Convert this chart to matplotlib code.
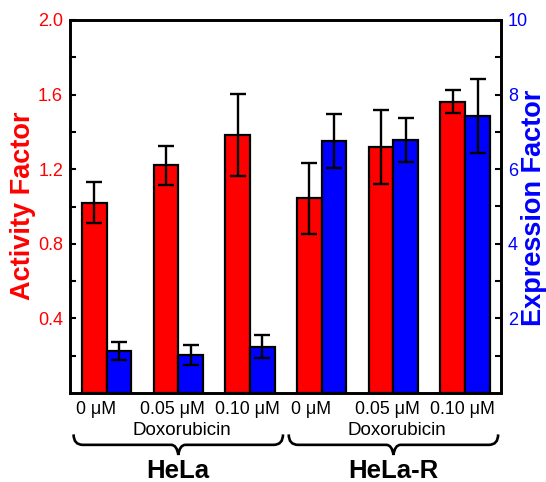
import matplotlib
matplotlib.use("Agg")
import matplotlib.pyplot as plt
from matplotlib.path import Path
from matplotlib.patches import PathPatch
import matplotlib.transforms as mtransforms
import numpy as np

plt.rcParams['font.family'] = ['Liberation Sans', 'DejaVu Sans']

# ---- data ----
conditions = ["0 μM", "0.05 μM", "0.10 μM", "0 μM", "0.05 μM", "0.10 μM"]
groups = ["HeLa", "HeLa-R"]
treatment = "Doxorubicin"
activity = [1.02, 1.22, 1.385, 1.045, 1.32, 1.562]
activity_err = [0.11, 0.105, 0.22, 0.19, 0.20, 0.06]
expression = [1.13, 1.02, 1.24, 6.76, 6.77, 7.43]
expression_err = [0.25, 0.27, 0.31, 0.72, 0.59, 1.0]

RED = "#FF0000"
BLUE = "#0000FF"

fig = plt.figure(figsize=(5.46, 4.82), dpi=100)
ax = fig.add_axes([70/546, 89/482, 431/546, 373/482])
ax2 = ax.twinx()

x = np.arange(len(conditions))
w = 0.345

ax.bar(x - w/2, activity, w, color=RED, edgecolor="black", linewidth=1.6, zorder=2)
ax.errorbar(x - w/2, activity, yerr=activity_err, fmt="none", ecolor="black",
            elinewidth=1.7, capsize=6, capthick=1.7, zorder=3)
ax2.bar(x + w/2, expression, w, color=BLUE, edgecolor="black", linewidth=1.6, zorder=2)
ax2.errorbar(x + w/2, expression, yerr=expression_err, fmt="none", ecolor="black",
             elinewidth=1.7, capsize=6, capthick=1.7, zorder=3)

ax.set_xlim(-0.51, 5.5)
ax.set_ylim(0, 2.0)
ax2.set_ylim(0, 10)

ax.set_yticks([0.4, 0.8, 1.2, 1.6, 2.0])
ax.set_yticks([0.2, 0.6, 1.0, 1.4, 1.8], minor=True)
ax.set_yticklabels(["0.4", "0.8", "1.2", "1.6", "2.0"])
ax2.set_yticks([2, 4, 6, 8, 10])
ax2.set_yticks([1, 3, 5, 7, 9], minor=True)
ax2.set_yticklabels(["2", "4", "6", "8", "10"])
ax.set_xticks([])

ax.tick_params(axis="y", which="both", direction="in", length=4, width=1.5,
               labelsize=13, labelcolor=RED, pad=5)
ax2.tick_params(axis="y", which="both", direction="in", length=4, width=1.5,
                labelsize=13, labelcolor=BLUE, pad=5)
for a in (ax, ax2):
    for s in a.spines.values():
        s.set_linewidth(1.9)

fig.text(23/546, 1 - 206/482, "Activity Factor", rotation=90, color=RED,
         fontsize=19.5, fontweight="bold", ha="center", va="center")
fig.text(534/546, 1 - 208/482, "Expression Factor", rotation=90, color=BLUE,
         fontsize=19.5, fontweight="bold", ha="center", va="center")

trans = mtransforms.blended_transform_factory(ax.transData, ax.transAxes)
label_shift = [-0.15, -0.085, -0.035, -0.15, -0.085, -0.035]
for xi, lab, sh in zip(x, conditions, label_shift):
    ax.text(xi + sh, -0.043, lab, transform=trans, ha="center", va="center",
            fontsize=12.8, clip_on=False)

def brace(x0, x1, xt):
    yt, ym, yp = -0.111, -0.139, -0.166
    c = 0.13
    verts = [(x0, yt), (x0, ym), (x0 + c, ym),
             (xt - 0.1, ym), (xt - 0.02, ym), (xt, yp),
             (xt + 0.02, ym), (xt + 0.1, ym),
             (x1 - c, ym), (x1, ym), (x1, yt)]
    codes = [Path.MOVETO, Path.CURVE3, Path.CURVE3,
             Path.LINETO, Path.CURVE3, Path.CURVE3,
             Path.CURVE3, Path.CURVE3,
             Path.LINETO, Path.CURVE3, Path.CURVE3]
    p = PathPatch(Path(verts, codes), transform=trans, fill=False,
                  edgecolor="black", linewidth=1.9, clip_on=False)
    ax.add_patch(p)

for gi, g in enumerate(groups):
    centre = 3 * gi + 1
    brace(3 * gi - 0.46, 3 * gi + 2.46, centre)
    ax.text(centre + 0.05, -0.1, treatment, transform=trans, ha="center",
            va="center", fontsize=13.5, clip_on=False)
    ax.text(centre, -0.209, g, transform=trans, ha="center", va="center",
            fontsize=18.5, fontweight="bold", clip_on=False)

fig.savefig("out.png", dpi=100)
